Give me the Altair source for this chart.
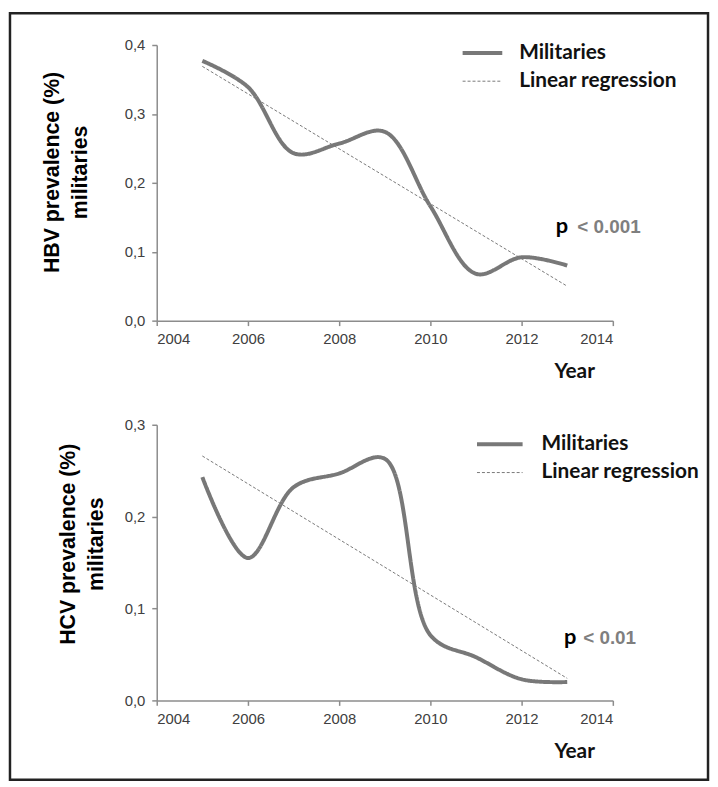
import altair as alt
import pandas as pd

# ---------------- data ----------------
years = [2005, 2006, 2007, 2008, 2009, 2010, 2011, 2012, 2013]
hbv_militaries = [0.377, 0.339, 0.243, 0.257, 0.274, 0.166, 0.068, 0.092, 0.080]
hcv_militaries = [0.243, 0.155, 0.232, 0.247, 0.263, 0.071, 0.047, 0.023, 0.020]
reg_years = [2005, 2013]
hbv_regression = [0.369, 0.050]
hcv_regression = [0.266, 0.024]
series_names = ["Militaries", "Linear regression"]
x_ticks = [2004, 2006, 2008, 2010, 2012, 2014]
hbv_y_ticks = [0.0, 0.1, 0.2, 0.3, 0.4]
hcv_y_ticks = [0.0, 0.1, 0.2, 0.3]
hbv_p = ["p", "< 0.001"]
hcv_p = ["p", "< 0.01"]

LINE_GREY = "#787878"
AXIS_GREY = "#8c8c8c"
SANS = "Liberation Sans"


def panel(mil, reg, yticks, ymax, ytitle, p_text, p_pos, leg, ttl, border=False):
    df = pd.DataFrame({
        "year": years + reg_years,
        "value": mil + reg,
        "series": [series_names[0]] * len(years) + [series_names[1]] * len(reg_years),
    })
    legend = alt.Legend(
        title=None, orient="none", legendX=leg["x"], legendY=leg["y"],
        symbolType=leg["path"], symbolSize=400, symbolStrokeColor=LINE_GREY,
        labelFont="Lato", labelFontSize=21, labelFontWeight="bold", labelColor="#111111",
        labelOffset=leg["offset"], rowPadding=7, padding=0,
    )
    x = alt.X("year:Q", scale=alt.Scale(domain=[2004, 2014], nice=False, zero=False),
              axis=alt.Axis(values=x_ticks, format="d", title="Year",
                            titleX=ttl["xx"], titleY=ttl["xy"], titleAlign="center",
                            titleBaseline="middle", titleFont="Lato", titleFontSize=21,
                            titleFontWeight="bold", titleColor="#111111"))
    y = alt.Y("value:Q", scale=alt.Scale(domain=[0, ymax], nice=False),
              axis=alt.Axis(values=yticks,
                            labelExpr="replace(format(datum.value, '.1f'), '.', ',')",
                            title=ytitle, titleX=ttl["yx"], titleY=ttl["yy"],
                            titleAngle=270, titleAlign="center", titleBaseline="middle",
                            titleLineHeight=28, titleFont=SANS,
                            titleFontSize=21.5, titleFontWeight="bold", titleColor="#000000"))
    lines = alt.Chart(df).mark_line(interpolate="catmull-rom", color=LINE_GREY).encode(
        x=x, y=y,
        strokeWidth=alt.StrokeWidth("series:N", scale=alt.Scale(domain=series_names, range=[4, 1]),
                                    legend=legend),
        strokeDash=alt.StrokeDash("series:N", scale=alt.Scale(domain=series_names, range=[[1, 0], [3, 2]]),
                                  legend=legend),
    )
    pdf = pd.DataFrame({"year": [p_pos["x1"]], "value": [p_pos["y"]], "t": [p_text[0]]})
    vdf = pd.DataFrame({"year": [p_pos["x2"]], "value": [p_pos["y"]], "t": [p_text[1]]})
    ptxt = alt.Chart(pdf).mark_text(align="left", baseline="alphabetic", font="Lato",
                                    fontSize=22, fontWeight="bold", color="#000000").encode(
        x="year:Q", y="value:Q", text="t:N")
    vtxt = alt.Chart(vdf).mark_text(align="left", baseline="alphabetic", font=SANS,
                                    fontSize=19, fontWeight="bold", color="#7f7f7f").encode(
        x="year:Q", y="value:Q", text="t:N")
    layers = [lines, ptxt, vtxt]
    if border:
        frame = alt.Chart(pd.DataFrame({"a": [0]})).mark_rect(
            filled=False, stroke="#222222", strokeWidth=2.5).encode(
            x=alt.value(-148), x2=alt.value(556), y=alt.value(-32), y2=alt.value(741))
        layers = [frame] + layers
    return alt.layer(*layers).properties(width=460, height=278)


top = panel(hbv_militaries, hbv_regression, hbv_y_ticks, 0.4,
            ["HBV prevalence (%)", "militaries"], hbv_p,
            {"x1": 2012.75, "x2": 2013.22, "y": 0.1267},
            {"x": 316.5, "y": -4, "offset": 25, "path": "M-2,0H2"},
            {"xx": 421, "xy": 51, "yx": -105, "yy": 128}, border=True)
bottom = panel(hcv_militaries, hcv_regression, hcv_y_ticks, 0.3,
               ["HCV prevalence (%)", "militaries"], hcv_p,
               {"x1": 2012.93, "x2": 2013.35, "y": 0.061},
               {"x": 334, "y": 7.7, "offset": 30, "path": "M-2.3,0H2.3"},
               {"xx": 421, "xy": 52, "yx": -89, "yy": 120})

chart = alt.vconcat(top, bottom, spacing=105, bounds="flush").resolve_scale(
    x="independent", y="independent", strokeWidth="independent", strokeDash="independent"
).resolve_legend(strokeWidth="independent", strokeDash="independent").properties(
    padding=0, background="white"
).configure_view(stroke=None).configure_axis(
    grid=False, domainColor=AXIS_GREY, domainWidth=1.5, tickColor=AXIS_GREY, tickWidth=1.5,
    tickSize=5, labelColor="#404040", labelFont=SANS, labelFontSize=15,
    labelPadding=6
).configure_axisY(labelPadding=7)

chart.save("out.html", embed_options={"renderer": "svg", "actions": False})
